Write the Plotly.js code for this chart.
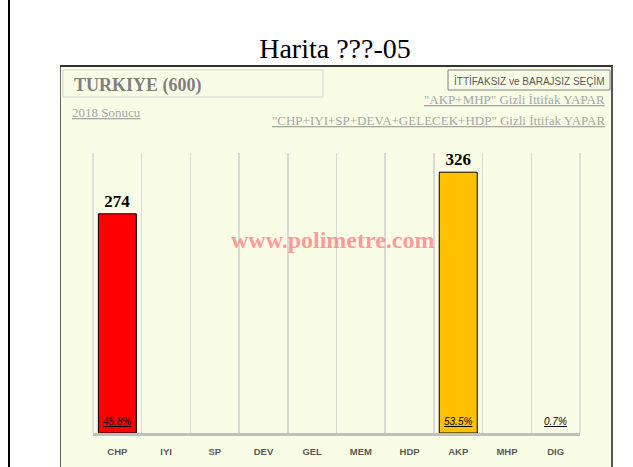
<!DOCTYPE html>
<html>
<head>
<meta charset="utf-8">
<script src="https://cdn.plot.ly/plotly-3.0.1.min.js"></script>
<style>html,body{margin:0;padding:0;background:#fff;}#chart{width:633px;height:467px;}</style>
</head>
<body>
<div id="chart"></div>
<script>
// ---- data ----
const parties = ['CHP','IYI','SP','DEV','GEL','MEM','HDP','AKP','MHP','DIG'];
const seats = [274, 0, 0, 0, 0, 0, 0, 326, 0, 0];
const votePct = ['45.8%', '', '', '', '', '', '', '53.5%', '', '0.7%'];
const barColors = ['#FF0000','#D9D9D9','#D9D9D9','#D9D9D9','#D9D9D9','#D9D9D9','#D9D9D9','#FFC000','#D9D9D9','#D9D9D9'];
const chartTitle = 'Harita ???-05';
const panelTitle = 'TURKIYE (600)';
const resultLink = '2018 Sonucu';
const modeBox = 'İTTİFAKSIZ ve BARAJSIZ SEÇİM';
const link1 = '"AKP+MHP" Gizli İttifak YAPAR';
const link2 = '"CHP+IYI+SP+DEVA+GELECEK+HDP" Gizli İttifak YAPAR';
const watermark = 'www.polimetre.com';

// ---- layout geometry (pixels -> paper) ----
const W = 633, H = 467, L = 93, R = 53, T = 153, B = 34;
const PW = W - L - R, PH = H - T - B;
const px = x => (x - L) / PW;
const py = y => (H - B - y) / PH;

const seatText = seats.map(v => v > 0 ? String(v) : '');

const traces = [
  {
    type: 'bar', x: parties, y: seats,
    marker: {color: barColors, line: {color: '#000', width: seats.map(v => v > 0 ? 1 : 0)}},
    text: seatText, textposition: 'outside', cliponaxis: false,
    textfont: {family: 'Liberation Serif', size: 17, color: '#000', weight: 'bold'},
    hoverinfo: 'x+y', showlegend: false
  }
];

const serifGrey = {family: 'Liberation Serif', size: 13, color: '#A6A6A6'};

const pctAnnotations = parties.map((p, i) => votePct[i] ? {
  xref: 'x', yref: 'y', x: p, y: 0, xanchor: 'center', yanchor: 'bottom', yshift: 4,
  showarrow: false, text: '<u><i>' + votePct[i] + '</i></u>',
  font: {family: 'Liberation Sans', size: 10, color: '#000', style: 'italic'}
} : null).filter(a => a);

const layout = {
  width: W, height: H,
  margin: {l: L, r: R, t: T, b: B, pad: 0},
  paper_bgcolor: '#FFFFFF', plot_bgcolor: 'rgba(0,0,0,0)',
  title: {text: chartTitle, font: {family: 'Liberation Serif', size: 28, color: '#000'},
          xref: 'container', yref: 'container', x: 335 / W, xanchor: 'center',
          y: 1 - 48 / H, yanchor: 'middle'},
  bargap: 0.22,
  xaxis: {
    type: 'category', range: [-0.5, 9.5], fixedrange: true,
    tickson: 'boundaries', ticks: '', showgrid: true, gridcolor: '#D9D9D9', gridwidth: 1.5,
    showline: true, linecolor: '#BFBFBF', linewidth: 2.5,
    tickfont: {family: 'Liberation Sans', size: 9.5, color: '#595959', weight: 'bold'},
    ticklabelstandoff: 8
  },
  yaxis: {range: [0, 350], showgrid: false, zeroline: false, showticklabels: false, ticks: '', fixedrange: true},
  shapes: [
    // outer black line at left
    {type: 'line', xref: 'paper', yref: 'paper', x0: px(9), x1: px(9), y0: py(0), y1: py(H), line: {color: '#000', width: 2}, layer: 'below'},
    // panel background
    {type: 'rect', xref: 'paper', yref: 'paper', x0: px(60.5), x1: px(612), y0: py(66), y1: py(H + 5), fillcolor: '#FAFDE6', line: {color: '#666', width: 1}, layer: 'below'},
    // panel top dark border
    {type: 'line', xref: 'paper', yref: 'paper', x0: px(60), x1: px(613), y0: py(66), y1: py(66), line: {color: '#333', width: 2}, layer: 'below'},
    // panel right border
    {type: 'line', xref: 'paper', yref: 'paper', x0: px(612), x1: px(612), y0: py(66), y1: py(H + 5), line: {color: '#555', width: 2}, layer: 'below'},
    // plot-area edge gridlines
    {type: 'line', xref: 'paper', yref: 'paper', x0: 0, x1: 0, y0: 0, y1: 1, line: {color: '#D9D9D9', width: 1.5}, layer: 'below'},
    {type: 'line', xref: 'paper', yref: 'paper', x0: 1, x1: 1, y0: 0, y1: 1, line: {color: '#D9D9D9', width: 1.5}, layer: 'below'},
    // TURKIYE box
    {type: 'rect', xref: 'paper', yref: 'paper', x0: px(63), x1: px(323), y0: py(70), y1: py(97), line: {color: '#D4D4D4', width: 1}, layer: 'below'},
    // mode box
    {type: 'rect', xref: 'paper', yref: 'paper', x0: px(448), x1: px(610), y0: py(70), y1: py(90), line: {color: '#808080', width: 1}, layer: 'below'}
  ],
  annotations: [
    {xref: 'paper', yref: 'paper', x: px(72), y: py(85), xanchor: 'left', yanchor: 'middle', showarrow: false,
     text: '<b>' + panelTitle + '</b>', font: {family: 'Liberation Serif', size: 18, color: '#7F7F7F'}},
    {xref: 'paper', yref: 'paper', x: px(70), y: py(112), xanchor: 'left', yanchor: 'middle', showarrow: false,
     text: '<u>' + resultLink + '</u>', font: serifGrey},
    {xref: 'paper', yref: 'paper', x: px(529), y: py(80.5), xanchor: 'center', yanchor: 'middle', showarrow: false,
     text: modeBox, font: {family: 'Liberation Sans', size: 10, color: '#595959'}},
    {xref: 'paper', yref: 'paper', x: px(607), y: py(99), xanchor: 'right', yanchor: 'middle', showarrow: false,
     text: '<u>' + link1 + '</u>', font: serifGrey},
    {xref: 'paper', yref: 'paper', x: px(607), y: py(120), xanchor: 'right', yanchor: 'middle', showarrow: false,
     text: '<u>' + link2 + '</u>', font: serifGrey},
    {xref: 'paper', yref: 'paper', x: px(333), y: py(240), xanchor: 'center', yanchor: 'middle', showarrow: false,
     text: '<b>' + watermark + '</b>', font: {family: 'Liberation Serif', size: 24, color: 'rgba(255,110,120,0.7)'}}
  ].concat(pctAnnotations)
};

Plotly.newPlot('chart', traces, layout, {displayModeBar: false, staticPlot: true});
</script>
</body>
</html>
